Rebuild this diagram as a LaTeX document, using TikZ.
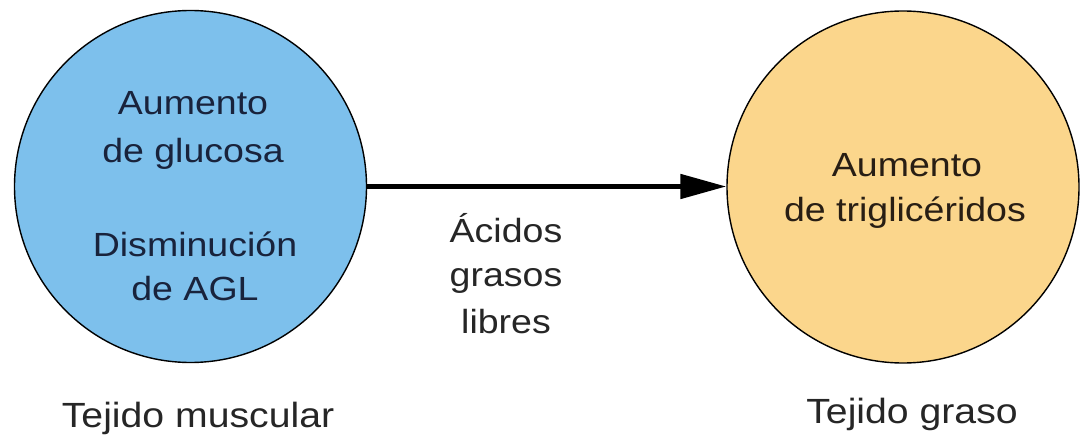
\documentclass[tikz,border=0pt]{standalone}
\usepackage{fontspec}
\setmainfont[FakeStretch=1.12]{Liberation Sans}
\usetikzlibrary{arrows.meta}
\definecolor{musc}{RGB}{125,192,236}
\definecolor{gras}{RGB}{251,214,140}
\definecolor{txtL}{RGB}{25,35,60}
\definecolor{txtR}{RGB}{40,30,20}
\tikzset{
  tissue/.style={circle,draw=black,line width=1.4pt,minimum size=352pt,inner sep=0pt},
  inlabel/.style={anchor=base,inner sep=0pt,font=\fontsize{33.5}{40}\selectfont},
  outlabel/.style={anchor=base,inner sep=0pt,text=black!85,font=\fontsize{35}{42}\selectfont},
  flow/.style={line width=5pt,-{Triangle[length=46pt,width=24pt]}}
}
\begin{document}
\begin{tikzpicture}[x=1pt,y=-1pt]
\useasboundingbox (0,0) rectangle (1080,441);
\node[tissue,fill=musc] (L) at (190.5,186.5) {};
\node[tissue,fill=gras] (R) at (903,187) {};
\draw[flow] (L.east) -- (L.east -| R.west);
% left circle text
\node[inlabel,text=txtL] (l1) at (193,115) {Aumento};
\node[inlabel,text=txtL] (l2) at (193,163) {de glucosa};
\node[inlabel,text=txtL] (l3) at (195,256) {Disminución};
\node[inlabel,text=txtL] (l4) at (195,300) {de AGL};
% right circle text
\node[inlabel,text=txtR] (r1) at (907,177) {Aumento};
\node[inlabel,text=txtR] (r2) at (905,222) {de triglicéridos};
% arrow label
\node[inlabel,text=black!85] (m1) at (506,242) {Ácidos};
\node[inlabel,text=black!85] (m2) at (506,287) {grasos};
\node[inlabel,text=black!85] (m3) at (506,333) {libres};
% tissue names
\node[outlabel] (tL) at (198,427) {Tejido muscular};
\node[outlabel] (tR) at (912,423) {Tejido graso};
\end{tikzpicture}
\end{document}
